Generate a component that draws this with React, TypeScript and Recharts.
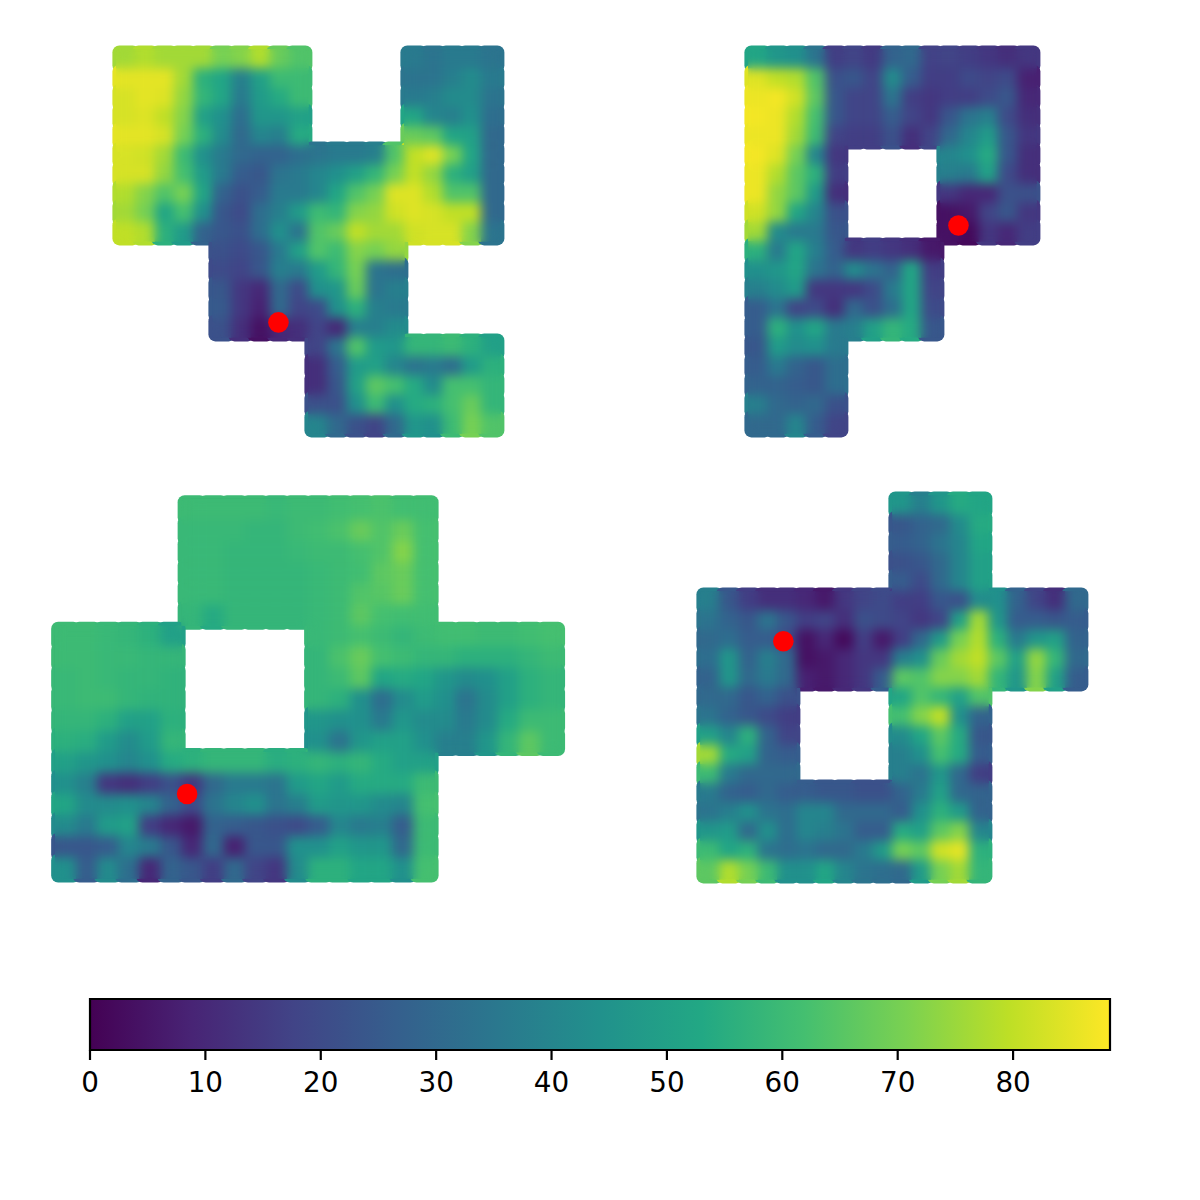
import { ReferenceArea, Scatter, ScatterChart, XAxis, YAxis } from 'recharts'

const _ = null

// values, one row per horizontal band of each room plan
const planOne = [
  [76, 78, 76, 76, 76, 70, 72, 78, 68, 64, _, _, _, _, _, 36, 34, 36, 36, 34],
  [85, 85, 85, 76, 56, 52, 38, 50, 60, 60, _, _, _, _, _, 34, 34, 38, 42, 36],
  [83, 85, 84, 74, 58, 52, 36, 48, 54, 60, _, _, _, _, _, 36, 38, 42, 42, 34],
  [83, 84, 80, 72, 50, 44, 32, 46, 46, 50, _, _, _, _, _, 52, 40, 38, 44, 32],
  [85, 85, 83, 70, 56, 42, 30, 40, 38, 54, _, _, _, _, _, 68, 66, 52, 50, 30],
  [83, 82, 76, 60, 44, 36, 30, 28, 28, 32, 34, 36, 36, 38, 64, 80, 84, 70, 52, 30],
  [83, 83, 74, 62, 48, 36, 26, 24, 34, 36, 40, 44, 50, 58, 70, 80, 74, 56, 50, 30],
  [78, 72, 64, 70, 52, 28, 22, 26, 36, 36, 40, 52, 64, 70, 84, 84, 78, 64, 64, 30],
  [76, 70, 52, 62, 44, 24, 20, 32, 38, 48, 60, 58, 72, 74, 82, 84, 83, 80, 80, 30],
  [80, 78, 56, 48, 28, 24, 22, 32, 44, 34, 64, 68, 80, 76, 76, 82, 83, 83, 72, 34],
  [_, _, _, _, _, 22, 20, 24, 36, 50, 64, 60, 72, 70, 74, _, _, _, _, _],
  [_, _, _, _, _, 20, 18, 24, 38, 36, 48, 58, 70, 34, 32, _, _, _, _, _],
  [_, _, _, _, _, 24, 14, 10, 30, 20, 44, 46, 68, 34, 38, _, _, _, _, _],
  [_, _, _, _, _, 25, 14, 8, 30, 18, 20, 44, 56, 38, 36, _, _, _, _, _],
  [_, _, _, _, _, 22, 12, 4, 10, 12, 18, 10, 38, 38, 42, _, _, _, _, _],
  [_, _, _, _, _, _, _, _, _, _, 18, 34, 64, 48, 46, 58, 58, 60, 56, 50],
  [_, _, _, _, _, _, _, _, _, _, 12, 26, 48, 50, 40, 34, 36, 32, 48, 56],
  [_, _, _, _, _, _, _, _, _, _, 12, 24, 50, 66, 62, 54, 42, 62, 62, 58],
  [_, _, _, _, _, _, _, _, _, _, 22, 22, 44, 60, 44, 54, 56, 62, 68, 58],
  [_, _, _, _, _, _, _, _, _, _, 40, 30, 22, 18, 30, 46, 44, 60, 70, 64],
]

const planTwo = [
  [52, 46, 44, 34, 16, 18, 15, 28, 30, 17, 18, 16, 14, 12, 14],
  [84, 80, 78, 64, 22, 24, 18, 42, 26, 16, 16, 20, 18, 20, 8],
  [86, 87, 82, 66, 24, 18, 18, 34, 16, 14, 16, 16, 20, 24, 10],
  [87, 86, 78, 62, 24, 18, 18, 26, 18, 14, 24, 34, 38, 20, 12],
  [86, 86, 76, 60, 18, 16, 16, 22, 12, 18, 30, 40, 48, 24, 14],
  [87, 84, 70, 40, 14, _, _, _, _, _, 40, 44, 54, 24, 12],
  [86, 78, 66, 56, 16, _, _, _, _, _, 38, 36, 50, 20, 12],
  [86, 74, 66, 48, 12, _, _, _, _, _, 14, 10, 10, 22, 22],
  [82, 74, 52, 40, 22, _, _, _, _, _, 4, 6, 18, 24, 14],
  [76, 42, 36, 36, 24, _, _, _, _, _, 4, 2, 14, 10, 16],
  [56, 36, 52, 38, 26, 14, 16, 14, 12, 6, _, _, _, _, _],
  [44, 46, 52, 34, 28, 42, 34, 28, 52, 16, _, _, _, _, _],
  [38, 42, 48, 14, 14, 14, 20, 36, 52, 18, _, _, _, _, _],
  [26, 34, 18, 20, 12, 30, 22, 32, 52, 20, _, _, _, _, _],
  [26, 56, 44, 52, 36, 38, 50, 58, 54, 24, _, _, _, _, _],
  [24, 48, 42, 44, 36, _, _, _, _, _, _, _, _, _, _],
  [26, 36, 28, 24, 32, _, _, _, _, _, _, _, _, _, _],
  [28, 28, 26, 24, 32, _, _, _, _, _, _, _, _, _, _],
  [38, 30, 28, 30, 22, _, _, _, _, _, _, _, _, _, _],
  [30, 30, 40, 26, 18, _, _, _, _, _, _, _, _, _, _],
]

const planThree = [
  [_, _, _, _, _, _, 60, 60, 60, 60, 59, 60, 60, 61, 62, 63, 61, 61, _, _, _, _, _, _],
  [_, _, _, _, _, _, 59, 59, 59, 58, 58, 60, 61, 63, 68, 64, 68, 62, _, _, _, _, _, _],
  [_, _, _, _, _, _, 59, 59, 58, 58, 58, 59, 60, 60, 62, 64, 72, 62, _, _, _, _, _, _],
  [_, _, _, _, _, _, 59, 59, 58, 58, 58, 58, 59, 60, 61, 66, 68, 62, _, _, _, _, _, _],
  [_, _, _, _, _, _, 59, 59, 58, 58, 58, 58, 59, 60, 64, 65, 68, 62, _, _, _, _, _, _],
  [_, _, _, _, _, _, 58, 54, 58, 58, 58, 58, 59, 60, 66, 62, 61, 61, _, _, _, _, _, _],
  [60, 60, 59, 58, 56, 50, _, _, _, _, _, _, 59, 60, 62, 60, 58, 60, 61, 61, 60, 60, 61, 62],
  [60, 60, 59, 59, 58, 58, _, _, _, _, _, _, 58, 63, 68, 62, 60, 58, 58, 56, 56, 56, 58, 60],
  [59, 60, 59, 58, 58, 57, _, _, _, _, _, _, 58, 60, 66, 52, 54, 52, 46, 42, 44, 50, 56, 58],
  [59, 60, 60, 58, 57, 57, _, _, _, _, _, _, 58, 56, 44, 32, 42, 48, 44, 34, 42, 50, 56, 58],
  [58, 58, 56, 50, 50, 56, _, _, _, _, _, _, 46, 44, 44, 36, 46, 42, 42, 36, 42, 54, 60, 60],
  [56, 55, 48, 42, 48, 58, _, _, _, _, _, _, 44, 34, 46, 50, 50, 44, 38, 38, 46, 58, 66, 60],
  [50, 46, 44, 40, 44, 54, 56, 58, 58, 58, 55, 56, 58, 56, 58, 54, 50, 50, _, _, _, _, _, _],
  [44, 38, 14, 12, 16, 22, 14, 30, 36, 36, 34, 48, 52, 48, 54, 54, 54, 60, _, _, _, _, _, _],
  [52, 42, 42, 44, 40, 28, 20, 34, 40, 44, 34, 38, 48, 46, 46, 42, 40, 62, _, _, _, _, _, _],
  [42, 36, 48, 50, 16, 10, 6, 28, 26, 24, 22, 20, 26, 40, 36, 38, 26, 60, _, _, _, _, _, _],
  [24, 24, 26, 40, 36, 24, 10, 30, 8, 24, 24, 44, 44, 50, 46, 46, 30, 60, _, _, _, _, _, _],
  [44, 26, 42, 32, 10, 28, 24, 16, 30, 18, 14, 42, 56, 56, 52, 52, 44, 62, _, _, _, _, _, _],
]

const planFour = [
  [_, _, _, _, _, _, _, _, _, _, 46, 38, 46, 54, 52, _, _, _, _, _],
  [_, _, _, _, _, _, _, _, _, _, 24, 28, 30, 42, 54, _, _, _, _, _],
  [_, _, _, _, _, _, _, _, _, _, 26, 28, 34, 40, 52, _, _, _, _, _],
  [_, _, _, _, _, _, _, _, _, _, 22, 24, 30, 40, 50, _, _, _, _, _],
  [_, _, _, _, _, _, _, _, _, _, 26, 20, 30, 40, 50, _, _, _, _, _],
  [38, 24, 16, 12, 12, 10, 6, 14, 18, 20, 16, 16, 24, 22, 42, 44, 28, 18, 12, 30],
  [34, 28, 24, 34, 24, 16, 18, 12, 22, 20, 18, 14, 18, 50, 76, 46, 26, 26, 24, 26],
  [30, 32, 26, 26, 20, 4, 10, 2, 16, 6, 16, 30, 48, 70, 78, 56, 36, 46, 50, 28],
  [32, 46, 28, 38, 30, 4, 6, 10, 14, 14, 38, 44, 68, 76, 80, 66, 50, 74, 58, 30],
  [28, 46, 30, 36, 30, 8, 6, 10, 14, 26, 66, 64, 72, 72, 76, 58, 46, 72, 50, 26],
  [30, 30, 24, 28, 22, _, _, _, _, _, 52, 64, 58, 50, 64, _, _, _, _, _],
  [34, 28, 24, 20, 16, _, _, _, _, _, 62, 72, 80, 44, 28, _, _, _, _, _],
  [50, 40, 56, 28, 18, _, _, _, _, _, 42, 52, 66, 54, 24, _, _, _, _, _],
  [76, 54, 50, 28, 26, _, _, _, _, _, 38, 44, 62, 54, 26, _, _, _, _, _],
  [60, 36, 30, 30, 30, _, _, _, _, _, 38, 34, 46, 30, 16, _, _, _, _, _],
  [36, 28, 26, 30, 26, 26, 24, 24, 22, 22, 28, 36, 50, 30, 28, _, _, _, _, _],
  [34, 38, 44, 34, 32, 40, 40, 30, 30, 30, 26, 44, 56, 48, 28, _, _, _, _, _],
  [46, 48, 30, 44, 32, 40, 38, 34, 26, 26, 54, 50, 66, 72, 40, _, _, _, _, _],
  [60, 52, 56, 34, 32, 34, 30, 30, 36, 48, 70, 66, 82, 85, 56, _, _, _, _, _],
  [66, 78, 70, 60, 44, 44, 52, 40, 34, 32, 30, 48, 70, 76, 58, _, _, _, _, _],
]

const markerOne = [{ col: 8.44, row: 14.22 }]
const markerTwo = [{ col: 10.94, row: 9.17 }]
const markerThree = [{ col: 6.26, row: 13.99 }]
const markerFour = [{ col: 4.32, row: 7.6 }]

const colorbarTicks = [0, 10, 20, 30, 40, 50, 60, 70, 80]
const valueMax = 88.4
const colorbarEnds = [{ x: 0, y: 0 }, { x: valueMax, y: 1 }]

const viridis = [
  '#440154', '#482475', '#414487', '#355f8d', '#2a788e', '#21918c',
  '#22a884', '#44bf70', '#7ad151', '#bddf26', '#fde725',
]

function hexToRgb(hex: string) {
  return [1, 3, 5].map((i) => parseInt(hex.slice(i, i + 2), 16))
}

function colorFor(value: number) {
  const t = Math.min(value / valueMax, 1) * (viridis.length - 1)
  const i = Math.min(Math.floor(t), viridis.length - 2)
  const a = hexToRgb(viridis[i])
  const b = hexToRgb(viridis[i + 1])
  const rgb = a.map((c, k) => Math.round(c + (b[k] - c) * (t - i)))
  return `rgb(${rgb.join(',')})`
}

function toCells(rows: (number | null)[][]) {
  return rows.flatMap((cells, row) =>
    cells.flatMap((value, col) =>
      value === null ? [] : [{ col: col + 0.5, row: row + 0.5, value }],
    ),
  )
}

interface PlanProps {
  rows: (number | null)[][]
  marker: { col: number; row: number }[]
  left: number
  top: number
  cell: number
  id: string
}

function Plan({ rows, marker, left, top, cell, id }: PlanProps) {
  const cols = rows[0].length
  const pad = 2
  const cells = toCells(rows)
  const outer = cell + 8
  const inner = cell + 0.4
  return (
    <div style={{ position: 'absolute', left: left - pad * cell, top: top - pad * cell }}>
      <style>{`.${id} { filter: url(#${id}); }`}</style>
      <ScatterChart
        height={(rows.length + pad * 2) * cell}
        margin={{ top: 0, right: 0, bottom: 0, left: 0 }}
        width={(cols + pad * 2) * cell}
      >
        <defs>
          <filter
            colorInterpolationFilters="sRGB"
            height="1.2"
            id={id}
            width="1.2"
            x="-0.1"
            y="-0.1"
          >
            <feGaussianBlur in="SourceGraphic" result="soft" stdDeviation="5.5" />
            <feComposite in="soft" in2="SourceAlpha" operator="in" result="kept" />
            <feMerge>
              <feMergeNode in="SourceGraphic" />
              <feMergeNode in="kept" />
              <feMergeNode in="kept" />
            </feMerge>
          </filter>
        </defs>
        <XAxis dataKey="col" domain={[-pad, cols + pad]} hide type="number" />
        <YAxis dataKey="row" domain={[-pad, rows.length + pad]} hide reversed type="number" />
        <Scatter
          data={cells}
          isAnimationActive={false}
          shape={(p: any) => (
            <rect
              fill={colorFor(p.payload.value)}
              height={outer}
              rx={7}
              width={outer}
              x={p.cx - outer / 2}
              y={p.cy - outer / 2}
            />
          )}
        />
        <Scatter
          className={id}
          data={cells}
          isAnimationActive={false}
          shape={(p: any) => (
            <rect
              fill={colorFor(p.payload.value)}
              height={inner}
              width={inner}
              x={p.cx - inner / 2}
              y={p.cy - inner / 2}
            />
          )}
        />
        <Scatter
          data={marker}
          isAnimationActive={false}
          shape={(p: any) => <circle cx={p.cx} cy={p.cy} fill="#ff0000" r={10.3} />}
        />
      </ScatterChart>
    </div>
  )
}

function Colorbar() {
  return (
    <div style={{ position: 'absolute', left: 0, top: 990 }}>
      <ScatterChart
        height={110}
        margin={{ top: 9, right: 90, bottom: 0, left: 90 }}
        width={1200}
      >
        <defs>
          <linearGradient id="viridisBar" x1="0" x2="1" y1="0" y2="0">
            {viridis.map((color, i) => (
              <stop key={color} offset={i / (viridis.length - 1)} stopColor={color} />
            ))}
          </linearGradient>
        </defs>
        <XAxis
          axisLine={false}
          dataKey="x"
          domain={[0, valueMax]}
          height={50}
          interval={0}
          tick={{ fill: '#000', fontFamily: 'DejaVu Sans', fontSize: 27.8 }}
          tickLine={{ stroke: '#000', strokeWidth: 2.2 }}
          tickMargin={12}
          tickSize={10}
          ticks={colorbarTicks}
          type="number"
        />
        <YAxis dataKey="y" domain={[0, 1]} hide type="number" />
        <Scatter data={colorbarEnds} isAnimationActive={false} shape={() => <g />} />
        <ReferenceArea
          fill="url(#viridisBar)"
          fillOpacity={1}
          stroke="#000"
          strokeWidth={2.2}
          x1={0}
          x2={valueMax}
          y1={0}
          y2={1}
        />
      </ScatterChart>
    </div>
  )
}

export default function App() {
  return (
    <div style={{ position: 'absolute', left: 0, top: 0, width: 1200, height: 1200, background: '#fff', overflow: 'hidden' }}>
      <Plan cell={19.2} id="smoothOne" left={116} marker={markerOne} rows={planOne} top={49} />
      <Plan cell={19.2} id="smoothTwo" left={748} marker={markerTwo} rows={planTwo} top={49} />
      <Plan cell={21.08} id="smoothThree" left={55} marker={markerThree} rows={planThree} top={499} />
      <Plan cell={19.2} id="smoothFour" left={700} marker={markerFour} rows={planFour} top={495} />
      <Colorbar />
    </div>
  )
}
